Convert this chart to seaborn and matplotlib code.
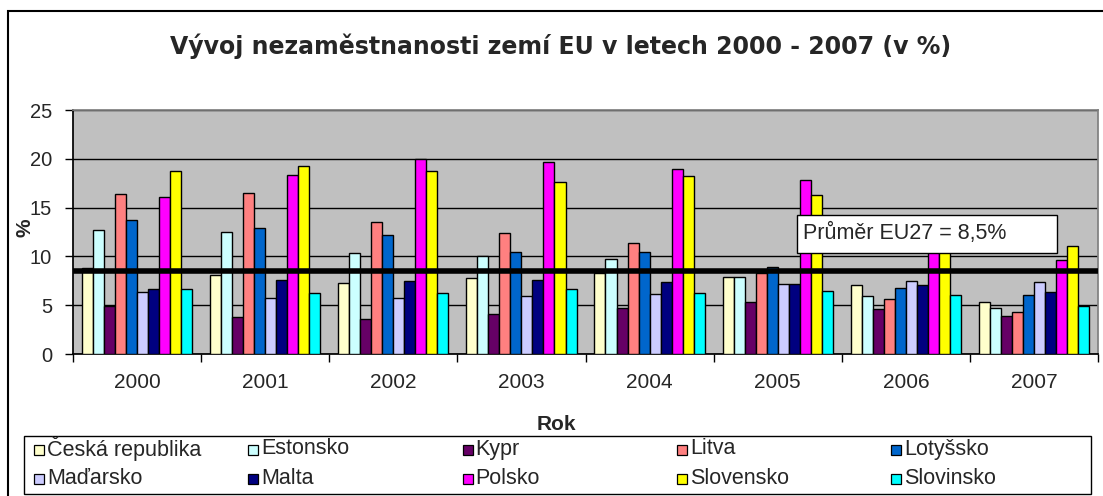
import matplotlib
matplotlib.use("Agg")
import matplotlib.pyplot as plt
import pandas as pd
import seaborn as sns
from matplotlib.lines import Line2D
from matplotlib.patches import Rectangle

years = ["2000", "2001", "2002", "2003", "2004", "2005", "2006", "2007"]
countries = ["Česká republika", "Estonsko", "Kypr", "Litva", "Lotyšsko",
             "Maďarsko", "Malta", "Polsko", "Slovensko", "Slovinsko"]
colors = ["#FFFFCC", "#CCFFFF", "#660066", "#FF8080", "#0066CC",
          "#CCCCFF", "#000080", "#FF00FF", "#FFFF00", "#00FFFF"]

cz = [8.8, 8.1, 7.3, 7.8, 8.3, 7.9, 7.1, 5.3]
ee = [12.7, 12.5, 10.3, 10.0, 9.7, 7.9, 5.9, 4.7]
cy = [4.9, 3.8, 3.6, 4.1, 4.7, 5.3, 4.6, 3.9]
lt = [16.4, 16.5, 13.5, 12.4, 11.4, 8.3, 5.6, 4.3]
lv = [13.7, 12.9, 12.2, 10.5, 10.4, 8.9, 6.8, 6.0]
hu = [6.4, 5.7, 5.7, 5.9, 6.1, 7.2, 7.5, 7.4]
mt = [6.7, 7.6, 7.5, 7.6, 7.4, 7.2, 7.1, 6.4]
pl = [16.1, 18.3, 20.0, 19.7, 19.0, 17.8, 13.9, 9.6]
sk = [18.8, 19.3, 18.7, 17.6, 18.2, 16.3, 13.4, 11.1]
si = [6.7, 6.2, 6.3, 6.7, 6.3, 6.5, 6.0, 4.9]
eu_avg = 8.5
eu_label = "Průměr EU27 = 8,5%"

values = [cz, ee, cy, lt, lv, hu, mt, pl, sk, si]
df = pd.DataFrame([
    {"Rok": y, "Země": c, "Hodnota": v[i]}
    for c, v in zip(countries, values)
    for i, y in enumerate(years)
])

sns.set_theme(style="white")
plt.rcParams["font.family"] = ["Liberation Sans", "DejaVu Sans"]

W, H = 1103, 496
fig = plt.figure(figsize=(W / 100, H / 100), dpi=100)
ax = fig.add_axes([73 / W, 1 - 354 / H, (1098 - 73) / W, (354 - 110) / H])
ax.set_facecolor("#C0C0C0")

sns.barplot(data=df, x="Rok", y="Hodnota", hue="Země", order=years,
            hue_order=countries, palette=colors, saturation=1, width=0.86, ax=ax,
            edgecolor="black", linewidth=1.0, legend=False, zorder=3)

ax.axhline(eu_avg, color="black", linewidth=4.0, zorder=4)

ax.set_ylim(0, 25)
ax.set_xlim(-0.5, len(years) - 0.5)
ax.set_yticks(range(0, 26, 5))
ax.yaxis.grid(True, color="black", linewidth=1.0, zorder=0)
ax.set_axisbelow(True)
for side in ["top", "right"]:
    ax.spines[side].set_color("#808080")
for side in ["left", "bottom"]:
    ax.spines[side].set_color("black")
ax.tick_params(axis="y", which="major", length=6, width=1, color="black",
               left=True, labelsize=14.5, pad=9)
ax.tick_params(axis="x", which="major", length=0, labelsize=15, pad=14)
ax.set_xticks([i - 0.5 for i in range(len(years) + 1)], minor=True)
ax.tick_params(axis="x", which="minor", length=6, width=1, color="black", bottom=True)

ax.set_xlabel("")
ax.set_ylabel("")
fig.text(25 / W, 1 - 228 / H, "%", rotation=90, fontsize=15, fontweight="bold",
         ha="center", va="center")
fig.text(556 / W, 1 - 424 / H, "Rok", fontsize=15, fontweight="bold",
         ha="center", va="center")
fig.text(561 / W, 1 - 46 / H, "Vývoj nezaměstnanosti zemí EU v letech 2000 - 2007 (v %)",
         fontsize=17, fontweight="bold", family="DejaVu Sans", ha="center", va="center")

# label box for the EU average
fig.add_artist(Rectangle((797 / W, 1 - 253 / H), 260 / W, 38 / H, transform=fig.transFigure,
                         facecolor="white", edgecolor="black", linewidth=1, zorder=6))
fig.text(803 / W, 1 - 233 / H, eu_label, fontsize=15.5, ha="left", va="center", zorder=7)

# outer chart border
fig.add_artist(Rectangle((8 / W, -0.05), 1.1, 1 - 11 / H + 0.05, transform=fig.transFigure,
                         fill=False, edgecolor="black", linewidth=1.5))

# legend (Excel-style fixed column grid)
fig.add_artist(Rectangle((24 / W, 1 - 494 / H), (1091 - 24) / W, (494 - 436) / H,
                         transform=fig.transFigure, facecolor="white",
                         edgecolor="black", linewidth=1, zorder=8))
for k, (name, col) in enumerate(zip(countries, colors)):
    row, c = divmod(k, 5)
    x0 = 34 + 214.25 * c
    yc = 449 + 29 * row
    fig.add_artist(Line2D([(x0 + 5) / W], [1 - (yc + 1) / H], transform=fig.transFigure,
                          marker="s", markersize=7, markerfacecolor=col,
                          markeredgecolor="black", markeredgewidth=0.9,
                          linestyle="none", zorder=9))
    fig.text((x0 + 13) / W, 1 - yc / H, name, fontsize=15.5, ha="left", va="center", zorder=9)

fig.savefig("out.png", dpi=100)
